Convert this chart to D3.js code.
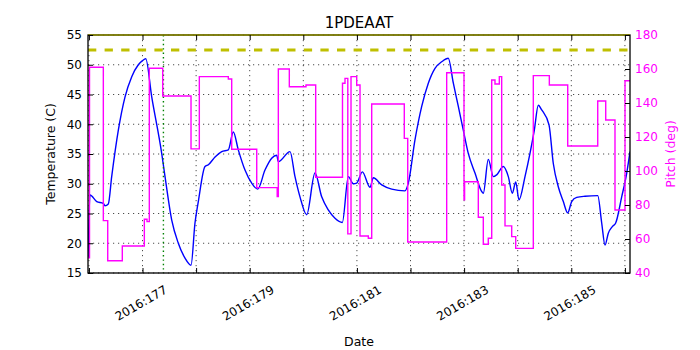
<!DOCTYPE html>
<html>
<head>
<meta charset="utf-8">
<script src="https://d3js.org/d3.v7.min.js"></script>
<style>
body { margin: 0; background: #fff; }
text { font-family: "DejaVu Sans", sans-serif; }
</style>
</head>
<body>
<div id="chart"></div>
<script>
"use strict";

// axis ticks
var dayTicks = [176, 177, 178, 179, 180, 181, 182, 183, 184, 185, 186];
var dayLabels = [177, 179, 181, 183, 185];
var tempTicks = [15, 20, 25, 30, 35, 40, 45, 50, 55];
var pitchTicks = [40, 60, 80, 100, 120, 140, 160, 180];

// 1PDEAAT temperature (day of year 2016, deg C)
var tempDays = [175.983, 176.021, 176.146, 176.269, 176.300, 176.362, 176.425, 176.549, 176.674, 176.799,
    176.922, 177.000, 177.060, 177.172, 177.358, 177.420, 177.545, 177.668, 177.793, 177.905,
    177.979, 178.041, 178.166, 178.228, 178.353, 178.478, 178.601, 178.694, 178.787, 178.912,
    179.037, 179.149, 179.285, 179.410, 179.504, 179.534, 179.752, 179.845, 179.938, 180.063,
    180.218, 180.343, 180.466, 180.591, 180.728, 180.840, 180.933, 180.996, 181.101, 181.244,
    181.306, 181.463, 181.649, 181.897, 181.959, 182.084, 182.209, 182.332, 182.457, 182.582,
    182.705, 182.799, 182.892, 182.985, 183.078, 183.203, 183.328, 183.358, 183.451, 183.545,
    183.608, 183.731, 183.825, 183.899, 183.963, 184.024, 184.136, 184.229, 184.310, 184.384,
    184.448, 184.584, 184.664, 184.757, 184.851, 184.933, 185.007, 185.101, 185.256, 185.493,
    185.567, 185.629, 185.690, 185.765, 185.828, 185.940, 186.034, 186.095];
var tempValues = [17.7, 28.1, 27.0, 26.7, 26.3, 26.6, 31.2, 39.0, 44.6, 48.0,
    50.0, 50.7, 51.0, 44.6, 35.1, 31.2, 23.9, 20.0, 17.5, 16.3,
    23.4, 27.0, 32.9, 33.2, 34.5, 35.4, 35.7, 38.7, 35.7, 32.3,
    30.1, 29.1, 32.3, 34.3, 34.8, 33.7, 35.4, 31.2, 27.8, 24.8,
    31.8, 27.8, 25.6, 24.2, 23.5, 31.2, 30.0, 30.1, 32.0, 29.4,
    31.0, 29.8, 29.1, 28.8, 30.1, 37.4, 43.0, 46.9, 49.4, 50.5,
    51.1, 46.9, 43.0, 39.0, 35.1, 31.8, 28.7, 28.4, 34.1, 31.2,
    31.5, 32.9, 31.2, 28.4, 30.3, 27.3, 31.2, 35.1, 39.0, 43.2,
    42.4, 39.9, 33.4, 29.5, 27.0, 25.1, 27.0, 27.7, 27.9, 28.0,
    23.4, 19.7, 21.7, 22.8, 23.4, 27.8, 31.8, 35.4];

// pitch (deg), value holds until next time
var pitchDays = [175.983, 176.011, 176.269, 176.351, 176.623, 177.034, 177.084, 177.127, 177.377, 177.905,
    178.060, 178.601, 178.664, 179.131, 179.513, 179.534, 179.739, 180.050, 180.231, 180.731,
    180.778, 180.830, 180.890, 180.996, 181.058, 181.213, 181.276, 181.884, 181.948, 182.675,
    182.998, 183.009, 183.265, 183.358, 183.451, 183.515, 183.576, 183.657, 183.701, 183.763,
    183.888, 183.963, 184.291, 184.590, 184.933, 185.493, 185.642, 185.815, 186.002, 186.095];
var pitchValues = [49, 161, 70.8, 47.2, 55.9, 71.6, 70.2, 160.4, 144.1, 113,
    155.5, 154.1, 112.8, 90.2, 84.9, 160, 149.6, 150.6, 96.3, 151.6,
    154.5, 63, 155.5, 150.6, 61.8, 60.4, 139.4, 119.2, 58.2, 157.8,
    83, 93.7, 72.8, 56.9, 60.4, 153.5, 151.2, 155.5, 91.8, 67.7,
    61.4, 54.5, 156.1, 150.6, 114.7, 141.2, 130, 77.1, 153.1, 153.1];

var tempLimit = 52.5;
var tempTop = 55;
var markDay = 177.39;

function drawChart()
{
    var w = 700;
    var h = 350;
    var left = 88, right = 630, top = 35, bottom = 273;

    var svg = d3.select("#chart")
                .append("svg")
                .attr("width", w)
                .attr("height", h);

    var x = d3.scaleLinear().domain([175.983, 186.095]).range([left, right]);
    var yT = d3.scaleLinear().domain([15, 55]).range([bottom, top]);
    var yP = d3.scaleLinear().domain([40, 180]).range([bottom, top]);

    svg.append("clipPath").attr("id", "plot")
        .append("rect")
        .attr("x", left).attr("y", top)
        .attr("width", right - left).attr("height", bottom - top);

    // grid
    svg.selectAll(".vgrid")
        .data(dayTicks)
        .enter().append("line")
        .attr("x1", function(d) { return x(d); })
        .attr("x2", function(d) { return x(d); })
        .attr("y1", top).attr("y2", bottom)
        .attr("stroke", "#000").attr("stroke-width", 0.7)
        .attr("stroke-dasharray", "1.2,3.8");

    svg.selectAll(".hgrid")
        .data(tempTicks)
        .enter().append("line")
        .attr("x1", left).attr("x2", right)
        .attr("y1", function(d) { return yT(d); })
        .attr("y2", function(d) { return yT(d); })
        .attr("stroke", "#000").attr("stroke-width", 0.7)
        .attr("stroke-dasharray", "1.2,3.8");

    var plot = svg.append("g").attr("clip-path", "url(#plot)");

    var tempLine = d3.line()
        .x(function(d, i) { return x(tempDays[i]); })
        .y(function(d) { return yT(d); })
        .curve(d3.curveMonotoneX);

    plot.append("path")
        .attr("d", tempLine(tempValues))
        .attr("fill", "none")
        .attr("stroke", "#0000ff")
        .attr("stroke-width", 1.4);

    plot.append("line")
        .attr("x1", left).attr("x2", right)
        .attr("y1", yT(tempLimit)).attr("y2", yT(tempLimit))
        .attr("stroke", "#bfbf00")
        .attr("stroke-width", 3)
        .attr("stroke-dasharray", "8.3,8.3");

    plot.append("line")
        .attr("x1", x(markDay)).attr("x2", x(markDay))
        .attr("y1", top).attr("y2", bottom)
        .attr("stroke", "#008000")
        .attr("stroke-width", 1.4)
        .attr("stroke-dasharray", "1.4,3");

    var pitchLine = d3.line()
        .x(function(d, i) { return x(pitchDays[i]); })
        .y(function(d) { return yP(d); })
        .curve(d3.curveStepAfter);

    plot.append("path")
        .attr("d", pitchLine(pitchValues))
        .attr("fill", "none")
        .attr("stroke", "#ff00ff")
        .attr("stroke-width", 1.4);

    // frame
    svg.append("rect")
        .attr("x", left).attr("y", top)
        .attr("width", right - left).attr("height", bottom - top)
        .attr("fill", "none")
        .attr("stroke", "#000")
        .attr("stroke-width", 1.3);

    svg.append("line")
        .attr("x1", left).attr("x2", right)
        .attr("y1", yT(tempTop)).attr("y2", yT(tempTop))
        .attr("stroke", "#8f8f00")
        .attr("stroke-width", 1.5);

    // axes
    var xAxis = svg.append("g")
        .attr("transform", "translate(0," + bottom + ")")
        .call(d3.axisBottom(x)
            .tickValues(dayTicks)
            .tickSizeInner(-5).tickSizeOuter(0)
            .tickFormat(function(d) { return dayLabels.indexOf(d) >= 0 ? "2016:" + d : ""; }));
    xAxis.selectAll("text")
        .attr("y", 0).attr("dy", "0.35em")
        .attr("transform", "translate(-2,30) rotate(-30)")
        .style("text-anchor", "middle");

    svg.append("g")
        .attr("transform", "translate(0," + top + ")")
        .call(d3.axisTop(x).tickValues(dayTicks).tickSizeInner(-5).tickSizeOuter(0).tickFormat(""));

    svg.append("g")
        .attr("transform", "translate(" + left + ",0)")
        .call(d3.axisLeft(yT).tickValues(tempTicks).tickSizeInner(-5).tickSizeOuter(0).tickPadding(6));

    var pAxis = svg.append("g")
        .attr("transform", "translate(" + right + ",0)")
        .call(d3.axisRight(yP).tickValues(pitchTicks).tickSizeInner(-5).tickSizeOuter(0).tickPadding(5));
    pAxis.selectAll("text").attr("fill", "#ff00ff");

    svg.selectAll(".domain").remove();
    svg.selectAll(".tick text")
        .style("font-size", "12px")
        .style("font-family", "'DejaVu Sans', sans-serif");

    // titles
    svg.append("text")
        .attr("x", (left + right) / 2).attr("y", 28)
        .style("text-anchor", "middle")
        .style("font-size", "15px")
        .text("1PDEAAT");

    svg.append("text")
        .attr("x", (left + right) / 2).attr("y", 346)
        .style("text-anchor", "middle")
        .style("font-size", "12.5px")
        .text("Date");

    svg.append("text")
        .attr("transform", "translate(55," + (top + bottom) / 2 + ") rotate(-90)")
        .style("text-anchor", "middle")
        .style("font-size", "12.5px")
        .text("Temperature (C)");

    svg.append("text")
        .attr("transform", "translate(675," + (top + bottom) / 2 + ") rotate(-90)")
        .style("text-anchor", "middle")
        .style("font-size", "12.5px")
        .attr("fill", "#ff00ff")
        .text("Pitch (deg)");
}

window.addEventListener('load', function (){
    drawChart();
});
</script>
</body>
</html>
